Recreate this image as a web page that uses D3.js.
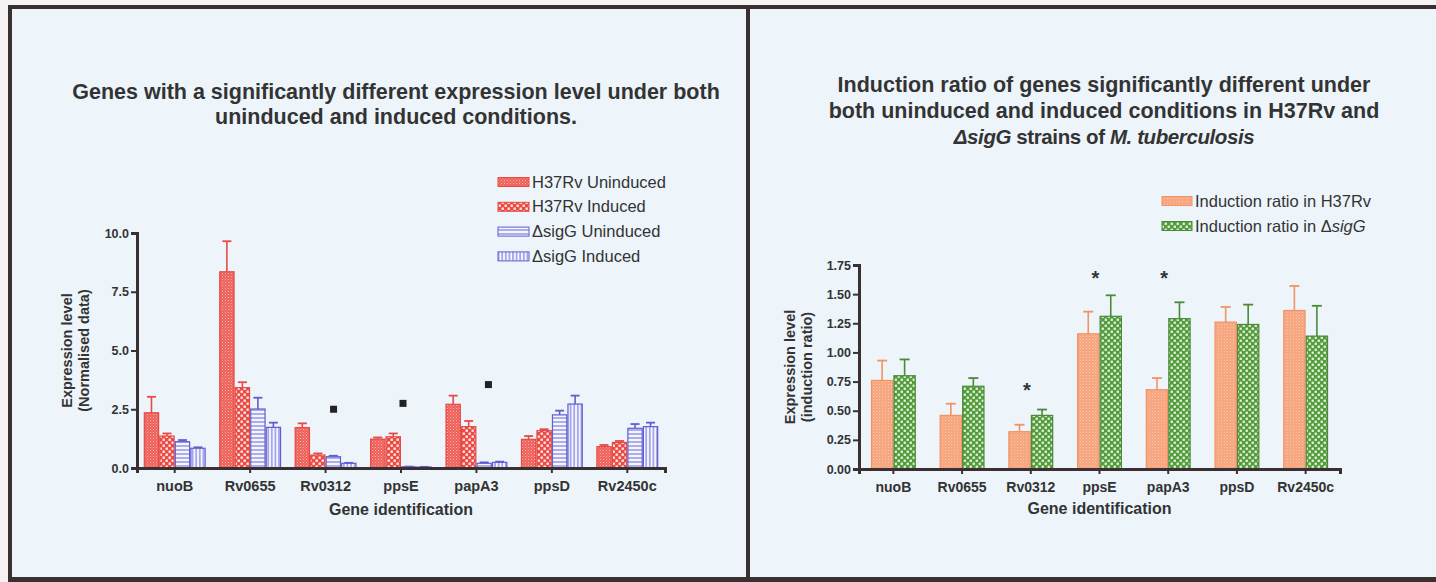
<!DOCTYPE html>
<html>
<head>
<meta charset="utf-8">
<script src="https://cdn.jsdelivr.net/npm/d3@7"></script>
<style>
  html, body { margin: 0; padding: 0; background: #f7f3f3; }
  svg { display: block; }
  text { font-family: "Liberation Sans", Arial, sans-serif; fill: #333; }
</style>
</head>
<body>
<svg id="fig" width="1436" height="582"></svg>
<script>
// ---- data ----
const genes = ["nuoB", "Rv0655", "Rv0312", "ppsE", "papA3", "ppsD", "Rv2450c"];

// Panel A: normalised expression level
const exprSeries = ["H37Rv Uninduced", "H37Rv Induced", "\u0394sigG Uninduced", "\u0394sigG  Induced"];
const h37Uninduced    = [2.35, 8.35, 1.72, 1.23, 2.71, 1.22, 0.91];
const h37UninducedErr = [0.68, 1.30, 0.18, 0.07, 0.37, 0.14, 0.07];
const h37Induced      = [1.36, 3.42, 0.55, 1.33, 1.76, 1.59, 1.09];
const h37InducedErr   = [0.11, 0.23, 0.07, 0.14, 0.24, 0.06, 0.06];
const sigGUninduced    = [1.12, 2.51, 0.48, 0.05, 0.20, 2.26, 1.69];
const sigGUninducedErr = [0.07, 0.48, 0.04, 0.01, 0.04, 0.18, 0.18];
const sigGInduced      = [0.84, 1.73, 0.20, 0.04, 0.24, 2.72, 1.76];
const sigGInducedErr   = [0.04, 0.20, 0.02, 0.01, 0.03, 0.36, 0.17];
const exprTicks = [0, 2.5, 5, 7.5, 10];
const exprMarkGenes  = ["Rv0312", "ppsE", "papA3"];
const exprMarkLevels = [2.50, 2.75, 3.55];

// Panel B: induction ratio
const ratioSeries = ["Induction ratio in H37Rv", "Induction ratio in \u0394sigG"];
const ratioH37     = [0.76, 0.46, 0.32, 1.16, 0.68, 1.26, 1.36];
const ratioH37Err  = [0.17, 0.10, 0.06, 0.19, 0.10, 0.13, 0.21];
const ratioSigG    = [0.80, 0.71, 0.46, 1.31, 1.29, 1.24, 1.14];
const ratioSigGErr = [0.14, 0.07, 0.05, 0.18, 0.14, 0.17, 0.26];
const ratioTicks = [0, 0.25, 0.5, 0.75, 1.0, 1.25, 1.5, 1.75];
const ratioStarGenes  = ["Rv0312", "ppsE", "papA3"];
const ratioStarLevels = [0.70, 1.66, 1.66];

// ---- drawing ----
const svg = d3.select("#fig");
const defs = svg.append("defs");
const ink = "#3a3032";

// fill patterns
function pat(id, w, h, bg, draw) {
  const p = defs.append("pattern").attr("id", id).attr("patternUnits", "userSpaceOnUse")
    .attr("width", w).attr("height", h);
  p.append("rect").attr("width", w).attr("height", h).attr("fill", bg);
  draw(p);
}
pat("pRedFine", 3, 3, "#ee5f5a", p => {
  p.append("rect").attr("x", 0).attr("y", 0).attr("width", 1).attr("height", 1).attr("fill", "#f8b4ad");
  p.append("rect").attr("x", 1.5).attr("y", 1.5).attr("width", 1).attr("height", 1).attr("fill", "#f59a92");
});
pat("pRedCheck", 6, 6, "#ea4b45", p => {
  p.append("rect").attr("x", 0.5).attr("y", 0.5).attr("width", 2.4).attr("height", 2.4).attr("fill", "#fde6e3");
  p.append("rect").attr("x", 3.5).attr("y", 3.5).attr("width", 2.4).attr("height", 2.4).attr("fill", "#fde6e3");
});
pat("pBlueH", 4, 4, "#f3f5ff", p => {
  p.append("rect").attr("x", 0).attr("y", 1.5).attr("width", 4).attr("height", 1).attr("fill", "#6a6ad6");
});
pat("pBlueV", 3.6, 4, "#f3f5ff", p => {
  p.append("rect").attr("x", 1.3).attr("y", 0).attr("width", 1).attr("height", 4).attr("fill", "#6a6ad6");
});
pat("pOrange", 3, 3, "#f7a57e", p => {
  p.append("rect").attr("x", 0).attr("y", 0).attr("width", 1).attr("height", 1).attr("fill", "#fbc7ab");
  p.append("rect").attr("x", 1.5).attr("y", 1.5).attr("width", 1).attr("height", 1).attr("fill", "#f9b594");
});
pat("pGreen", 6, 6, "#559c3f", p => {
  p.append("rect").attr("x", 0.6).attr("y", 0.6).attr("width", 2.3).attr("height", 2.3).attr("fill", "#e2f3d8");
  p.append("rect").attr("x", 3.6).attr("y", 3.6).attr("width", 2.3).attr("height", 2.3).attr("fill", "#e2f3d8");
});

// page frame
svg.append("rect").attr("x", 10).attr("y", 8).attr("width", 1426).attr("height", 571).attr("fill", "#edf5fb");
svg.append("rect").attr("x", 8).attr("y", 5).attr("width", 1428).attr("height", 4).attr("fill", ink);
svg.append("rect").attr("x", 8).attr("y", 5).attr("width", 4).attr("height", 577).attr("fill", ink);
svg.append("rect").attr("x", 746).attr("y", 5).attr("width", 4).attr("height", 577).attr("fill", ink);
svg.append("rect").attr("x", 8).attr("y", 577).attr("width", 1428).attr("height", 5).attr("fill", ink);

function panel(cfg) {
  const g = svg.append("g");
  const x = d3.scaleBand().domain(genes).range(cfg.xRange).padding(0);
  const y = d3.scaleLinear().domain(cfg.yDomain).range(cfg.yRange);
  const sub = d3.scaleBand().domain(cfg.series.map((s, i) => i))
    .range([-cfg.groupHalf, cfg.groupHalf]).padding(0);

  // title, one text element per line
  cfg.title.forEach((line, i) => {
    const size = (cfg.titleSizes && cfg.titleSizes[i]) || cfg.titleSize;
    const t = g.append("text").attr("x", cfg.titleX).attr("y", cfg.titleY + i * cfg.titleGap)
      .attr("text-anchor", "middle").style("font-weight", "bold")
      .style("font-size", size + "px");
    if (cfg.titleSpacing && cfg.titleSpacing[i]) t.style("letter-spacing", cfg.titleSpacing[i] + "px");
    line.forEach(part => t.append("tspan").text(part.t).style("font-style", part.i ? "italic" : null));
  });

  // bars
  cfg.series.forEach((s, si) => {
    genes.forEach((gname, gi) => {
      const v = s.values[gi], e = s.err[gi];
      const cx = x(gname) + x.bandwidth() / 2 + sub(si);
      const w = sub.bandwidth();
      const yTop = y(v), yErr = y(v + e);
      g.append("line").attr("x1", cx + w / 2).attr("x2", cx + w / 2).attr("y1", yTop).attr("y2", yErr)
        .attr("stroke", s.stroke).attr("stroke-width", 1.6);
      g.append("line").attr("x1", cx + w / 2 - cfg.cap / 2).attr("x2", cx + w / 2 + cfg.cap / 2)
        .attr("y1", yErr).attr("y2", yErr).attr("stroke", s.stroke).attr("stroke-width", 1.8);
      g.append("rect").attr("x", cx + 0.6).attr("y", yTop).attr("width", w - 1.2)
        .attr("height", y(0) - yTop).attr("fill", `url(#${s.pattern})`)
        .attr("stroke", s.stroke).attr("stroke-width", 1.2);
    });
  });

  // axes
  const yAxis = d3.axisLeft(y).tickValues(cfg.ticks).tickFormat(d3.format(cfg.fmt))
    .tickSizeOuter(0).tickSize(6).tickPadding(2);
  const ya = g.append("g").attr("transform", `translate(${cfg.xRange[0]},0)`).call(yAxis);
  const xAxis = d3.axisBottom(x).tickSizeOuter(0).tickSize(5).tickPadding(8);
  const xa = g.append("g").attr("transform", `translate(0,${cfg.yRange[0]})`).call(xAxis);
  [ya, xa].forEach(a => {
    a.select(".domain").attr("stroke", ink).attr("stroke-width", 3);
    a.selectAll(".tick line").attr("stroke", ink).attr("stroke-width", 2);
    a.selectAll(".tick text").style("font-family", "'Liberation Sans', Arial, sans-serif")
      .style("font-weight", "bold").attr("fill", "#333");
  });
  ya.selectAll(".tick text").style("font-size", cfg.yTickSize + "px");
  xa.selectAll(".tick text").style("font-size", cfg.xTickSize + "px");

  // axis titles
  const ym = (cfg.yRange[0] + cfg.yRange[1]) / 2;
  cfg.yLabel.forEach((l, i) => {
    g.append("text").attr("transform", `translate(${cfg.yLabelX + i * cfg.yLabelGap},${ym}) rotate(-90)`)
      .attr("text-anchor", "middle").style("font-weight", "bold").style("font-size", "14.5px").text(l);
  });
  g.append("text").attr("x", (cfg.xRange[0] + cfg.xRange[1]) / 2).attr("y", cfg.xLabelY)
    .attr("text-anchor", "middle").style("font-weight", "bold").style("font-size", "16px")
    .text("Gene identification");

  // legend
  cfg.series.forEach((s, i) => {
    const ly = cfg.legendY + i * cfg.legendGap;
    g.append("rect").attr("x", cfg.legendX).attr("y", ly - 4.5).attr("width", cfg.swatchW).attr("height", 9)
      .attr("fill", `url(#${s.pattern})`).attr("stroke", s.stroke).attr("stroke-width", 1);
    const lt = g.append("text").attr("x", cfg.legendX + cfg.swatchW + 3).attr("y", ly + 5.5)
      .style("font-size", cfg.legendSize + "px");
    s.label.forEach(p => lt.append("tspan").text(p.t).style("font-style", p.i ? "italic" : null));
  });

  return { g, x, y };
}

const A = panel({
  xRange: [137, 665], yRange: [468, 233], yDomain: [0, 10], ticks: exprTicks, fmt: ".1f",
  groupHalf: 31, cap: 9,
  series: [
    { values: h37Uninduced, err: h37UninducedErr, pattern: "pRedFine", stroke: "#e84a44", label: [{ t: exprSeries[0] }] },
    { values: h37Induced, err: h37InducedErr, pattern: "pRedCheck", stroke: "#e84a44", label: [{ t: exprSeries[1] }] },
    { values: sigGUninduced, err: sigGUninducedErr, pattern: "pBlueH", stroke: "#5e5ed0", label: [{ t: exprSeries[2] }] },
    { values: sigGInduced, err: sigGInducedErr, pattern: "pBlueV", stroke: "#5e5ed0", label: [{ t: exprSeries[3] }] }
  ],
  title: [[{ t: "Genes with a significantly different expression level under both" }],
          [{ t: "uninduced and induced conditions." }]],
  titleX: 396, titleY: 99, titleGap: 25, titleSize: 21.5,
  yTickSize: 12.5, xTickSize: 14.5,
  yLabel: ["Expression level", "(Normalised data)"], yLabelX: 72, yLabelGap: 17,
  xLabelY: 515,
  legendX: 498, legendY: 182, legendGap: 24.8, swatchW: 31, legendSize: 16.5
});

// significance markers, panel A
exprMarkGenes.forEach((gname, i) => {
  const shift = [8, 2, 12][i];
  const cx = A.x(gname) + A.x.bandwidth() / 2 + shift;
  A.g.append("rect").attr("x", cx - 3.5).attr("y", A.y(exprMarkLevels[i]) - 3.5)
    .attr("width", 7).attr("height", 7).attr("fill", "#222");
});

const B = panel({
  xRange: [859, 1340], yRange: [469, 265], yDomain: [0, 1.75], ticks: ratioTicks, fmt: ".2f",
  groupHalf: 22.5, cap: 10,
  series: [
    { values: ratioH37, err: ratioH37Err, pattern: "pOrange", stroke: "#f39263", label: [{ t: ratioSeries[0] }] },
    { values: ratioSigG, err: ratioSigGErr, pattern: "pGreen", stroke: "#4b8a38",
      label: [{ t: "Induction ratio in \u0394" }, { t: "sigG", i: true }] }
  ],
  title: [[{ t: "Induction ratio of genes significantly different under" }],
          [{ t: "both uninduced and induced conditions in H37Rv and" }],
          [{ t: "\u0394sigG", i: true }, { t: " strains of " }, { t: "M. tuberculosis", i: true }]],
  titleSizes: [null, null, 20.5], titleSpacing: [null, null, -0.4],
  titleX: 1104, titleY: 92, titleGap: 26, titleSize: 21.5,
  yTickSize: 12.5, xTickSize: 14,
  yLabel: ["Expression level", "(induction ratio)"], yLabelX: 795, yLabelGap: 17,
  xLabelY: 514,
  legendX: 1162, legendY: 201, legendGap: 25, swatchW: 30, legendSize: 16.5
});

// significance stars, panel B
ratioStarGenes.forEach((gname, i) => {
  const cx = B.x(gname) + B.x.bandwidth() / 2 - 4;
  B.g.append("text").attr("x", cx).attr("y", B.y(ratioStarLevels[i]) + 10)
    .attr("text-anchor", "middle").style("font-size", "20px").style("font-weight", "bold")
    .attr("fill", "#222").text("*");
});
</script>
</body>
</html>
